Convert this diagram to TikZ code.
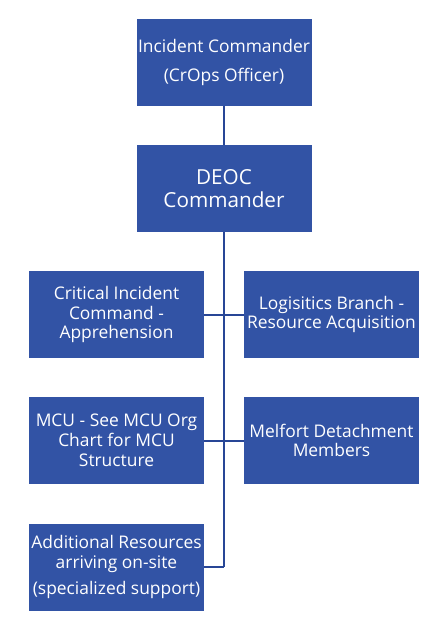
\documentclass[tikz,border=0pt]{standalone}
\usepackage{fontspec}
\setmainfont{Open Sans}
\definecolor{boxblue}{RGB}{50,83,165}
\definecolor{lineblue}{RGB}{40,70,150}
\begin{document}
\begin{tikzpicture}[x=1pt,y=-1pt,
  box/.style={draw=none,fill=boxblue,text=white,minimum width=175pt,minimum height=87pt,
    inner sep=0pt,align=center,font=\fontsize{17.4}{19.8}\selectfont},
  conn/.style={draw=lineblue,line width=2pt}]
\useasboundingbox (0,0) rectangle (445,634);
\node[box] (ic) at (224,62.5) {Incident Commander\\[10pt](CrOps Officer)};
\node[box,font=\fontsize{20.7}{23}\selectfont] (deoc) at (224,188.5) {DEOC\\Commander};
\node[box] (cic) at (116.5,314.5) {Critical Incident\\Command -\\Apprehension};
\node[box] (log) at (331.5,314.5) {Logisitics Branch -\\Resource Acquisition};
\node[box] (mcu) at (116.5,440.5) {MCU - See MCU Org\\Chart for MCU\\Structure};
\node[box] (mel) at (331.5,440.5) {Melfort Detachment\\Members};
\node[box] (add) at (116.5,567) {Additional Resources\\arriving on-site\\[6pt](specialized support)};
\coordinate (j1) at (224,314.5);
\coordinate (j2) at (224,440.5);
\coordinate (j3) at (224,567);
\draw[conn] (ic.south) -- (deoc.north);
\draw[conn] (deoc.south) -- (j3);
\draw[conn] (cic.east) -- (log.west);
\draw[conn] (mcu.east) -- (mel.west);
\draw[conn] (add.east) -- (j3);
\end{tikzpicture}
\end{document}
